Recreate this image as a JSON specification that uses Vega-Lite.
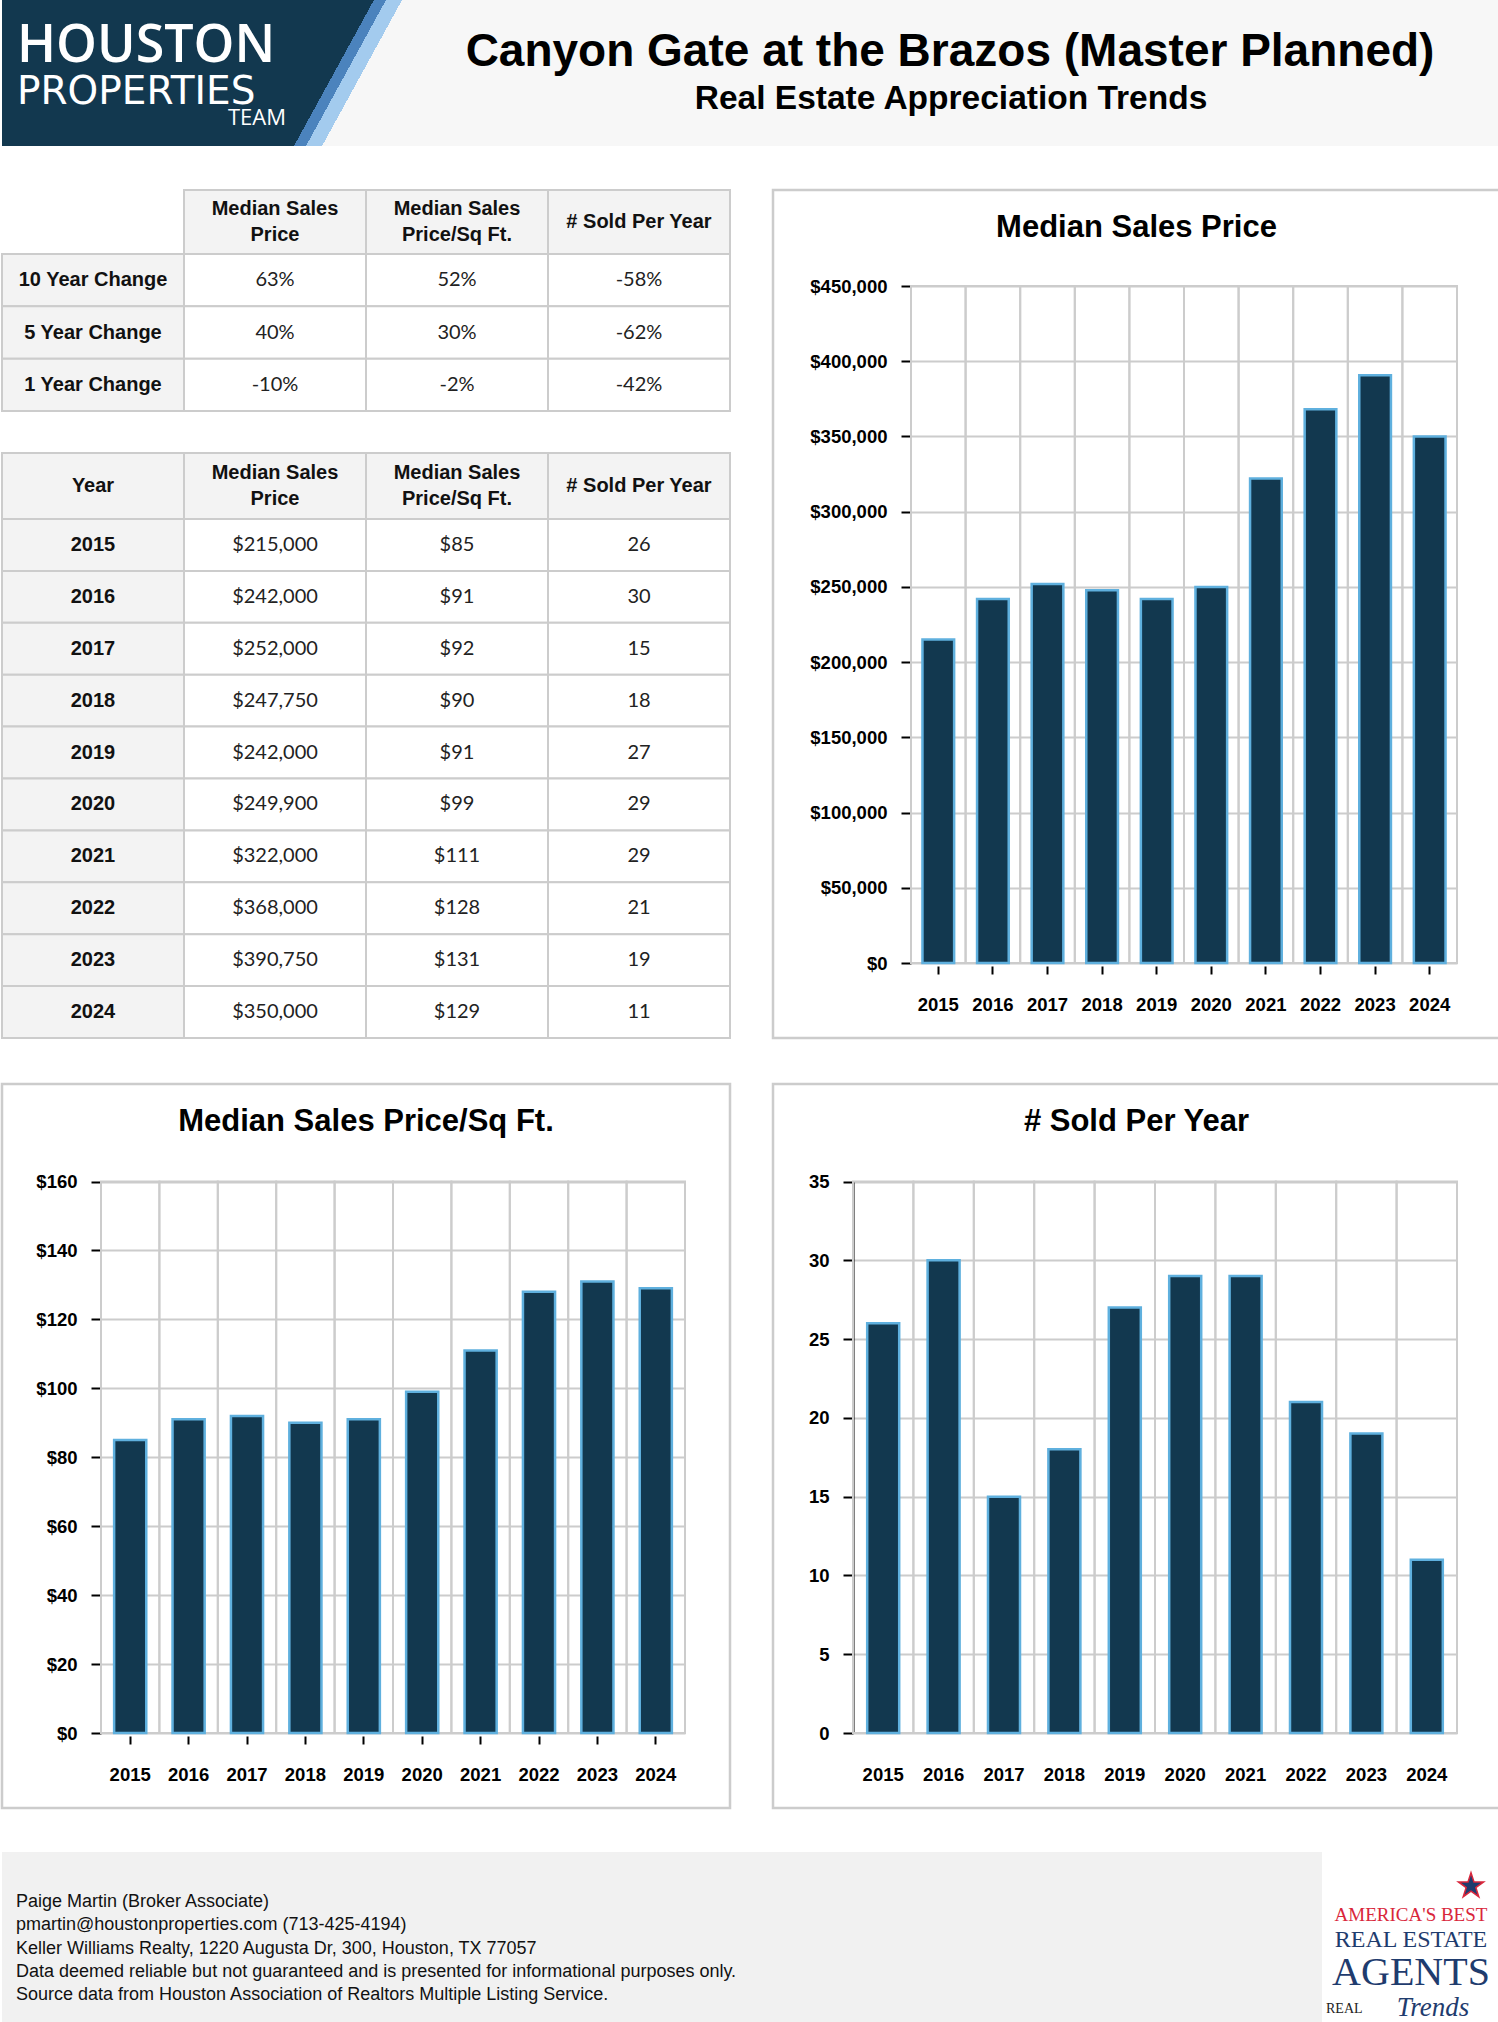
{
  "$schema": "https://vega.github.io/schema/vega-lite/v6.json",
  "padding": 0,
  "background": "white",
  "spacing": 42,
  "config": {
    "view": {"stroke": null},
    "font": "Liberation Sans",
    "locale": {"number": {"decimal": ".", "thousands": ",", "grouping": [3], "currency": ["$", ""], "minus": "-"}},
    "axis": {"labelFont": "Liberation Sans", "labelFontWeight": "bold", "labelFontSize": 18.5, "labelColor": "#000000"},
    "title": {"font": "Liberation Sans", "fontWeight": "bold", "color": "#000000"}
  },
  "datasets": {
    "years": [
      {"year": 2015, "price": 215000, "psf": 85, "sold": 26},
      {"year": 2016, "price": 242000, "psf": 91, "sold": 30},
      {"year": 2017, "price": 252000, "psf": 92, "sold": 15},
      {"year": 2018, "price": 247750, "psf": 90, "sold": 18},
      {"year": 2019, "price": 242000, "psf": 91, "sold": 27},
      {"year": 2020, "price": 249900, "psf": 99, "sold": 29},
      {"year": 2021, "price": 322000, "psf": 111, "sold": 29},
      {"year": 2022, "price": 368000, "psf": 128, "sold": 21},
      {"year": 2023, "price": 390750, "psf": 131, "sold": 19},
      {"year": 2024, "price": 350000, "psf": 129, "sold": 11}
    ],
    "changes": [
      {"period": "10 Year Change", "price": 0.63, "psf": 0.52, "sold": -0.58},
      {"period": "5 Year Change", "price": 0.40, "psf": 0.30, "sold": -0.62},
      {"period": "1 Year Change", "price": -0.10, "psf": -0.02, "sold": -0.42}
    ],
    "heads": [
      {"key": "year", "h": "Year"},
      {"key": "price", "h": "Median Sales\nPrice"},
      {"key": "psf", "h": "Median Sales\nPrice/Sq Ft."},
      {"key": "sold", "h": "# Sold Per Year"}
    ]
  },
  "vconcat": [
    {
      "width": 1498,
      "height": 146,
      "layer": [
        {
          "data": {"values": [{"part": "banner"}]},
          "mark": {
            "type": "rect",
            "fill": {
              "gradient": "linear", "x1": 0, "y1": 0, "x2": 1, "y2": 0.0534,
              "stops": [
                {"offset": 0, "color": "#12384f"},
                {"offset": 0.2476, "color": "#12384f"},
                {"offset": 0.2476, "color": "#4b83bd"},
                {"offset": 0.2556, "color": "#4b83bd"},
                {"offset": 0.2556, "color": "#a3cbee"},
                {"offset": 0.2663, "color": "#a3cbee"},
                {"offset": 0.2663, "color": "#f7f7f7"},
                {"offset": 1, "color": "#f7f7f7"}
              ]
            }
          },
          "encoding": {"x": {"value": 0}, "x2": {"value": "width"}, "y": {"value": 0}, "y2": {"value": "height"}}
        },
        {
          "data": {"values": [{"t": "HOUSTON"}]},
          "mark": {"type": "text", "align": "left", "baseline": "alphabetic", "dx": -734, "dy": -11, "font": "Open Sans", "fontWeight": 600, "fontSize": 52, "fill": "#ffffff"},
          "encoding": {"text": {"field": "t"}}
        },
        {
          "data": {"values": [{"t": "PROPERTIES"}]},
          "mark": {"type": "text", "align": "left", "baseline": "alphabetic", "dx": -734, "dy": 31, "font": "DejaVu Sans", "fontWeight": "normal", "fontSize": 39, "fill": "#ffffff"},
          "encoding": {"text": {"field": "t"}}
        },
        {
          "data": {"values": [{"t": "TEAM"}]},
          "mark": {"type": "text", "align": "right", "baseline": "alphabetic", "dx": -465, "dy": 52, "font": "Open Sans", "fontWeight": 400, "fontSize": 22, "fill": "#ffffff"},
          "encoding": {"text": {"field": "t"}}
        },
        {
          "data": {"values": [{"t": "Canyon Gate at the Brazos (Master Planned)"}]},
          "mark": {"type": "text", "align": "center", "baseline": "middle", "dx": 199, "dy": -21, "font": "Liberation Sans", "fontWeight": "bold", "fontSize": 46, "fill": "#000000"},
          "encoding": {"text": {"field": "t"}}
        },
        {
          "data": {"values": [{"t": "Real Estate Appreciation Trends"}]},
          "mark": {"type": "text", "align": "center", "baseline": "middle", "dx": 200, "dy": 26, "font": "Liberation Sans", "fontWeight": "bold", "fontSize": 33.5, "fill": "#000000"},
          "encoding": {"text": {"field": "t"}}
        }
      ]
    },
    {
      "hconcat": [
        {
          "vconcat": [
            {
              "vconcat": [
                {
                  "width": 728,
                  "height": 64,
                  "data": {"name": "heads"},
                  "transform": [{"filter": "datum.key !== 'year'"}],
                  "encoding": {
                    "x": {"field": "key", "type": "nominal", "scale": {"type": "band", "domain": ["period", "price", "psf", "sold"], "paddingInner": 0, "paddingOuter": 0}, "axis": null}
                  },
                  "layer": [
                    {"mark": {"type": "rect", "fill": "#f3f3f3", "stroke": "#cccccc", "strokeWidth": 2}},
                    {"transform": [{"filter": "datum.key === 'price' || datum.key === 'psf'"}], "mark": {"type": "text", "lineBreak": "\n", "lineHeight": 26, "baseline": "middle", "dy": -13, "font": "Liberation Sans", "fontWeight": "bold", "fontSize": 20, "fill": "#111111"}, "encoding": {"text": {"field": "h"}}},
                    {"transform": [{"filter": "datum.key === 'year' || datum.key === 'sold'"}], "mark": {"type": "text", "baseline": "middle", "font": "Liberation Sans", "fontWeight": "bold", "fontSize": 20, "fill": "#111111"}, "encoding": {"text": {"field": "h"}}}
                  ]
                },
                {
                  "width": 728,
                  "height": 157,
                  "data": {"name": "changes"},
                  "transform": [{"fold": ["period", "price", "psf", "sold"]}],
                  "encoding": {
                    "x": {"field": "key", "type": "nominal", "scale": {"type": "band", "domain": ["period", "price", "psf", "sold"], "paddingInner": 0, "paddingOuter": 0}, "axis": null},
                    "y": {"field": "period", "type": "nominal", "scale": {"type": "band", "domain": ["10 Year Change", "5 Year Change", "1 Year Change"], "paddingInner": 0, "paddingOuter": 0}, "axis": null}
                  },
                  "layer": [
                    {"mark": {"type": "rect", "stroke": "#cccccc", "strokeWidth": 2}, "encoding": {"fill": {"condition": {"test": "datum.key === 'period'", "value": "#f3f3f3"}, "value": "#ffffff"}}},
                    {"transform": [{"filter": "datum.key === 'period'"}], "mark": {"type": "text", "baseline": "middle", "font": "Liberation Sans", "fontWeight": "bold", "fontSize": 20, "fill": "#111111"}, "encoding": {"text": {"field": "period"}}},
                    {"transform": [{"filter": "datum.key !== 'period'"}], "mark": {"type": "text", "baseline": "middle", "font": "Lato", "fontSize": 20, "fill": "#222222"}, "encoding": {"text": {"field": "value", "type": "quantitative", "format": ".0%"}}}
                  ]
                }
              ],
              "spacing": 0,
              "bounds": "flush"
            },
            {
              "vconcat": [
                {
                  "width": 728,
                  "height": 66,
                  "data": {"name": "heads"},
                  "encoding": {
                    "x": {"field": "key", "type": "nominal", "scale": {"type": "band", "domain": ["year", "price", "psf", "sold"], "paddingInner": 0, "paddingOuter": 0}, "axis": null}
                  },
                  "layer": [
                    {"mark": {"type": "rect", "fill": "#f3f3f3", "stroke": "#cccccc", "strokeWidth": 2}},
                    {"transform": [{"filter": "datum.key === 'price' || datum.key === 'psf'"}], "mark": {"type": "text", "lineBreak": "\n", "lineHeight": 26, "baseline": "middle", "dy": -13, "font": "Liberation Sans", "fontWeight": "bold", "fontSize": 20, "fill": "#111111"}, "encoding": {"text": {"field": "h"}}},
                    {"transform": [{"filter": "datum.key === 'year' || datum.key === 'sold'"}], "mark": {"type": "text", "baseline": "middle", "font": "Liberation Sans", "fontWeight": "bold", "fontSize": 20, "fill": "#111111"}, "encoding": {"text": {"field": "h"}}}
                  ]
                },
                {
                  "width": 728,
                  "height": 519,
                  "data": {"name": "years"},
                  "transform": [{"fold": ["year", "price", "psf", "sold"]}],
                  "encoding": {
                    "x": {"field": "key", "type": "nominal", "scale": {"type": "band", "domain": ["year", "price", "psf", "sold"], "paddingInner": 0, "paddingOuter": 0}, "axis": null},
                    "y": {"field": "year", "type": "ordinal", "scale": {"type": "band", "paddingInner": 0, "paddingOuter": 0}, "axis": null}
                  },
                  "layer": [
                    {"mark": {"type": "rect", "stroke": "#cccccc", "strokeWidth": 2}, "encoding": {"fill": {"condition": {"test": "datum.key === 'year'", "value": "#f3f3f3"}, "value": "#ffffff"}}},
                    {"transform": [{"filter": "datum.key === 'year'"}], "mark": {"type": "text", "baseline": "middle", "font": "Liberation Sans", "fontWeight": "bold", "fontSize": 20, "fill": "#111111"}, "encoding": {"text": {"field": "year", "type": "nominal"}}},
                    {"transform": [{"filter": "datum.key === 'price' || datum.key === 'psf'"}], "mark": {"type": "text", "baseline": "middle", "font": "Lato", "fontSize": 20, "fill": "#222222"}, "encoding": {"text": {"field": "value", "type": "quantitative", "format": "$,.0f"}}},
                    {"transform": [{"filter": "datum.key === 'sold'"}], "mark": {"type": "text", "baseline": "middle", "font": "Lato", "fontSize": 20, "fill": "#222222"}, "encoding": {"text": {"field": "value", "type": "quantitative", "format": "d"}}}
                  ]
                }
              ],
              "spacing": 0,
              "bounds": "flush"
            }
          ],
          "spacing": 40
        },
        {
          "width": 727,
          "height": 848,
          "view": {"fill": "#ffffff", "stroke": "#cccccc", "strokeWidth": 2.5},
          "title": {"text": "Median Sales Price", "fontSize": 31, "anchor": "middle", "frame": "group", "offset": -54},
          "data": {"name": "years"},
          "layer": [
            {
              "mark": {"type": "rect", "fill": "transparent", "stroke": "#cccccc", "strokeWidth": 2},
              "encoding": {
                "x": {"field": "year", "type": "ordinal", "scale": {"type": "band", "range": [138, 684], "paddingInner": 0, "paddingOuter": 0},
                  "axis": {"orient": "bottom", "offset": -72, "domain": false, "grid": false, "ticks": true, "tickSize": 8, "tickWidth": 2, "tickColor": "#000000", "labelPadding": 21, "labelAngle": 0, "title": null}},
                "y": {"datum": 450000, "type": "quantitative", "scale": {"domain": [0, 450000], "range": [773, 96], "nice": false},
                  "axis": {"orient": "left", "offset": -138, "domain": false, "grid": true, "gridColor": "#cccccc", "gridWidth": 2, "ticks": true, "tickSize": 10, "tickWidth": 2, "tickColor": "#000000", "labelPadding": 14, "values": [0, 50000, 100000, 150000, 200000, 250000, 300000, 350000, 400000, 450000], "format": "$,.0f", "title": null}},
                "y2": {"datum": 0}
              }
            },
            {
              "mark": {"type": "bar", "fill": "#12384f", "stroke": "#5fb0de", "strokeWidth": 2.5, "width": {"band": 0.58}},
              "encoding": {
                "x": {"field": "year", "type": "ordinal", "scale": {"type": "band", "range": [138, 684], "paddingInner": 0, "paddingOuter": 0},
                  "axis": {"orient": "bottom", "offset": -72, "domain": false, "grid": false, "ticks": true, "tickSize": 8, "tickWidth": 2, "tickColor": "#000000", "labelPadding": 21, "labelAngle": 0, "title": null}},
                "y": {"field": "price", "type": "quantitative", "scale": {"domain": [0, 450000], "range": [773, 96], "nice": false},
                  "axis": {"orient": "left", "offset": -138, "domain": false, "grid": true, "gridColor": "#cccccc", "gridWidth": 2, "ticks": true, "tickSize": 10, "tickWidth": 2, "tickColor": "#000000", "labelPadding": 14, "values": [0, 50000, 100000, 150000, 200000, 250000, 300000, 350000, 400000, 450000], "format": "$,.0f", "title": null}}
              }
            }
          ]
        }
      ],
      "spacing": 40
    },
    {
      "hconcat": [
        {
          "width": 728,
          "height": 724,
          "view": {"fill": "#ffffff", "stroke": "#cccccc", "strokeWidth": 2.5},
          "title": {"text": "Median Sales Price/Sq Ft.", "fontSize": 31, "anchor": "middle", "frame": "group", "offset": -54},
          "data": {"name": "years"},
          "layer": [
            {
              "mark": {"type": "rect", "fill": "transparent", "stroke": "#cccccc", "strokeWidth": 2},
              "encoding": {
                "x": {"field": "year", "type": "ordinal", "scale": {"type": "band", "range": [99, 683], "paddingInner": 0, "paddingOuter": 0},
                  "axis": {"orient": "bottom", "offset": -72, "domain": false, "grid": false, "ticks": true, "tickSize": 8, "tickWidth": 2, "tickColor": "#000000", "labelPadding": 21, "labelAngle": 0, "title": null}},
                "y": {"datum": 160, "type": "quantitative", "scale": {"domain": [0, 160], "range": [649, 97.5], "nice": false},
                  "axis": {"orient": "left", "offset": -99, "domain": false, "grid": true, "gridColor": "#cccccc", "gridWidth": 2, "ticks": true, "tickSize": 10, "tickWidth": 2, "tickColor": "#000000", "labelPadding": 14, "values": [0, 20, 40, 60, 80, 100, 120, 140, 160], "format": "$,.0f", "title": null}},
                "y2": {"datum": 0}
              }
            },
            {
              "mark": {"type": "bar", "fill": "#12384f", "stroke": "#5fb0de", "strokeWidth": 2.5, "width": {"band": 0.55}},
              "encoding": {
                "x": {"field": "year", "type": "ordinal", "scale": {"type": "band", "range": [99, 683], "paddingInner": 0, "paddingOuter": 0},
                  "axis": {"orient": "bottom", "offset": -72, "domain": false, "grid": false, "ticks": true, "tickSize": 8, "tickWidth": 2, "tickColor": "#000000", "labelPadding": 21, "labelAngle": 0, "title": null}},
                "y": {"field": "psf", "type": "quantitative", "scale": {"domain": [0, 160], "range": [649, 97.5], "nice": false},
                  "axis": {"orient": "left", "offset": -99, "domain": false, "grid": true, "gridColor": "#cccccc", "gridWidth": 2, "ticks": true, "tickSize": 10, "tickWidth": 2, "tickColor": "#000000", "labelPadding": 14, "values": [0, 20, 40, 60, 80, 100, 120, 140, 160], "format": "$,.0f", "title": null}}
              }
            }
          ]
        },
        {
          "width": 727,
          "height": 724,
          "view": {"fill": "#ffffff", "stroke": "#cccccc", "strokeWidth": 2.5},
          "title": {"text": "# Sold Per Year", "fontSize": 31, "anchor": "middle", "frame": "group", "offset": -54},
          "data": {"name": "years"},
          "layer": [
            {
              "mark": {"type": "rect", "fill": "transparent", "stroke": "#cccccc", "strokeWidth": 2},
              "encoding": {
                "x": {"field": "year", "type": "ordinal", "scale": {"type": "band", "range": [80, 684], "paddingInner": 0, "paddingOuter": 0},
                  "axis": {"orient": "bottom", "offset": -72, "domain": false, "grid": false, "ticks": true, "tickOpacity": 0, "tickSize": 8, "tickWidth": 2, "labelPadding": 21, "labelAngle": 0, "title": null}},
                "y": {"datum": 35, "type": "quantitative", "scale": {"domain": [0, 35], "range": [649, 97.5], "nice": false},
                  "axis": {"orient": "left", "offset": -80, "domain": true, "domainColor": "#000000", "domainWidth": 2, "grid": true, "gridColor": "#cccccc", "gridWidth": 2, "ticks": true, "tickSize": 10, "tickWidth": 2, "tickColor": "#000000", "labelPadding": 14, "values": [0, 5, 10, 15, 20, 25, 30, 35], "format": "d", "title": null}},
                "y2": {"datum": 0}
              }
            },
            {
              "mark": {"type": "bar", "fill": "#12384f", "stroke": "#5fb0de", "strokeWidth": 2.5, "width": {"band": 0.53}},
              "encoding": {
                "x": {"field": "year", "type": "ordinal", "scale": {"type": "band", "range": [80, 684], "paddingInner": 0, "paddingOuter": 0},
                  "axis": {"orient": "bottom", "offset": -72, "domain": false, "grid": false, "ticks": true, "tickOpacity": 0, "tickSize": 8, "tickWidth": 2, "labelPadding": 21, "labelAngle": 0, "title": null}},
                "y": {"field": "sold", "type": "quantitative", "scale": {"domain": [0, 35], "range": [649, 97.5], "nice": false},
                  "axis": {"orient": "left", "offset": -80, "domain": true, "domainColor": "#000000", "domainWidth": 2, "grid": true, "gridColor": "#cccccc", "gridWidth": 2, "ticks": true, "tickSize": 10, "tickWidth": 2, "tickColor": "#000000", "labelPadding": 14, "values": [0, 5, 10, 15, 20, 25, 30, 35], "format": "d", "title": null}}
              }
            }
          ]
        }
      ],
      "spacing": 43,
      "bounds": "flush"
    },
    {
      "hconcat": [
        {
          "width": 1320,
          "height": 172,
          "view": {"fill": "#f1f1f1"},
          "data": {"values": [
            {"line": "Paige Martin (Broker Associate)"},
            {"line": "pmartin@houstonproperties.com (713-425-4194)"},
            {"line": "Keller Williams Realty, 1220 Augusta Dr, 300, Houston, TX 77057"},
            {"line": "Data deemed reliable but not guaranteed and is presented for informational purposes only."},
            {"line": "Source data from Houston Association of Realtors Multiple Listing Service."}
          ]},
          "mark": {"type": "text", "align": "left", "baseline": "middle", "dx": -646, "font": "Liberation Sans", "fontSize": 18, "fill": "#111111"},
          "encoding": {
            "y": {"field": "line", "type": "nominal", "sort": null, "scale": {"type": "point", "range": [50, 143], "padding": 0}, "axis": null},
            "text": {"field": "line"}
          }
        },
        {
          "width": 178,
          "height": 172,
          "view": {"fill": "#ffffff"},
          "layer": [
            {
              "data": {"values": [{"t": "AMERICA'S BEST"}]},
              "mark": {"type": "text", "align": "center", "baseline": "middle", "dy": -23, "font": "Liberation Serif", "fontSize": 19, "fill": "#d9263b"},
              "encoding": {"text": {"field": "t"}}
            },
            {
              "data": {"values": [{"t": "REAL ESTATE"}]},
              "mark": {"type": "text", "align": "center", "baseline": "middle", "dy": 2, "font": "Liberation Serif", "fontSize": 24, "fill": "#1f3c6e"},
              "encoding": {"text": {"field": "t"}}
            },
            {
              "data": {"values": [{"t": "AGENTS"}]},
              "mark": {"type": "text", "align": "center", "baseline": "middle", "dy": 35, "font": "Liberation Serif", "fontSize": 40, "fill": "#1f3c6e"},
              "encoding": {"text": {"field": "t"}}
            },
            {
              "data": {"values": [{"t": "REAL"}]},
              "mark": {"type": "text", "align": "left", "baseline": "middle", "dx": -85, "dy": 71, "font": "Liberation Serif", "fontSize": 14, "fill": "#222222"},
              "encoding": {"text": {"field": "t"}}
            },
            {
              "data": {"values": [{"t": "Trends"}]},
              "mark": {"type": "text", "align": "center", "baseline": "middle", "dx": 22, "dy": 70, "font": "Liberation Serif", "fontStyle": "italic", "fontSize": 27, "fill": "#1f3c6e"},
              "encoding": {"text": {"field": "t"}}
            },
            {
              "data": {"values": [{"t": "star"}]},
              "mark": {"type": "point", "shape": "M0,-1L0.2245,-0.309L0.951,-0.309L0.363,0.118L0.588,0.809L0,0.382L-0.588,0.809L-0.363,0.118L-0.951,-0.309L-0.2245,-0.309Z", "size": 700, "filled": true, "fill": "#1f3c6e", "stroke": "#d9263b", "strokeWidth": 1.5, "opacity": 1, "xOffset": 60, "yOffset": -52},
              "encoding": {}
            }
          ]
        }
      ],
      "spacing": 0,
      "bounds": "flush"
    }
  ]
}
